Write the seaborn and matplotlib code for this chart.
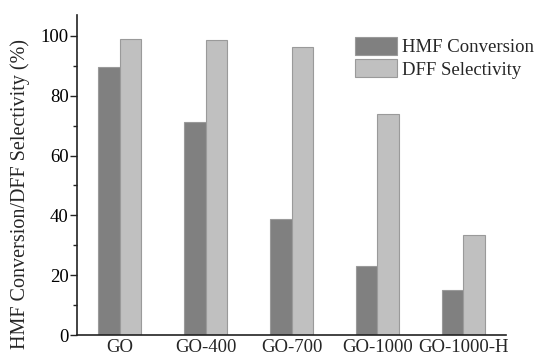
import matplotlib
matplotlib.use("Agg")
import matplotlib.pyplot as plt
import seaborn as sns
import pandas as pd
from matplotlib.ticker import MultipleLocator

catalysts = ["GO", "GO-400", "GO-700", "GO-1000", "GO-1000-H"]
hmf_conversion = [89.5, 71.3, 38.9, 23.1, 14.9]
dff_selectivity = [98.9, 98.7, 96.3, 73.8, 33.4]
series_names = ["HMF Conversion", "DFF Selectivity"]
y_ticks = [0, 20, 40, 60, 80, 100]

sns.set_style("ticks")
plt.rcParams["font.family"] = ["Liberation Serif", "DejaVu Serif"]

FS = 13.5

df = pd.DataFrame({
    "Catalyst": catalysts * 2,
    "Value": hmf_conversion + dff_selectivity,
    "Series": [series_names[0]] * len(catalysts) + [series_names[1]] * len(catalysts),
})

fig = plt.figure(figsize=(5.36, 3.57), dpi=100)
ax = fig.add_axes([77 / 536, 1 - 335 / 357, (506 - 77) / 536, (335 - 15) / 357])

palette = {series_names[0]: "#808080", series_names[1]: "#c0c0c0"}
sns.barplot(data=df, x="Catalyst", y="Value", hue="Series", palette=palette,
            width=0.5, gap=0, saturation=1, ax=ax, linewidth=0.8,
            edgecolor="#9a9a9a")

ax.set_xlim(-0.5, 4.5)
ax.set_ylim(0, 107)
ax.set_yticks(y_ticks)
ax.yaxis.set_minor_locator(MultipleLocator(10))
ax.tick_params(axis="y", which="major", direction="out", length=5, width=1,
               labelsize=FS, pad=1, colors="#222222", labelcolor="black")
ax.tick_params(axis="y", which="minor", direction="out", length=3, width=1,
               colors="#222222")
ax.tick_params(axis="x", length=0, labelsize=FS, pad=3)

ax.set_xlabel("")
ax.set_ylabel("HMF Conversion/DFF Selectivity (%)", fontsize=14.5)
ax.yaxis.set_label_coords(-0.11, 0.44)

for side in ["top", "right"]:
    ax.spines[side].set_visible(False)
for side in ["left", "bottom"]:
    ax.spines[side].set_color("#222222")
    ax.spines[side].set_linewidth(1.2)

ax.legend(loc="upper left", bbox_to_anchor=(355 / 536, 1 - 37 / 357),
          bbox_transform=fig.transFigure, frameon=False,
          fontsize=FS, handlelength=2.25, handleheight=1.1,
          handletextpad=0.25, labelspacing=0.15, borderaxespad=0, borderpad=0)

fig.savefig("out.png", dpi=100)
